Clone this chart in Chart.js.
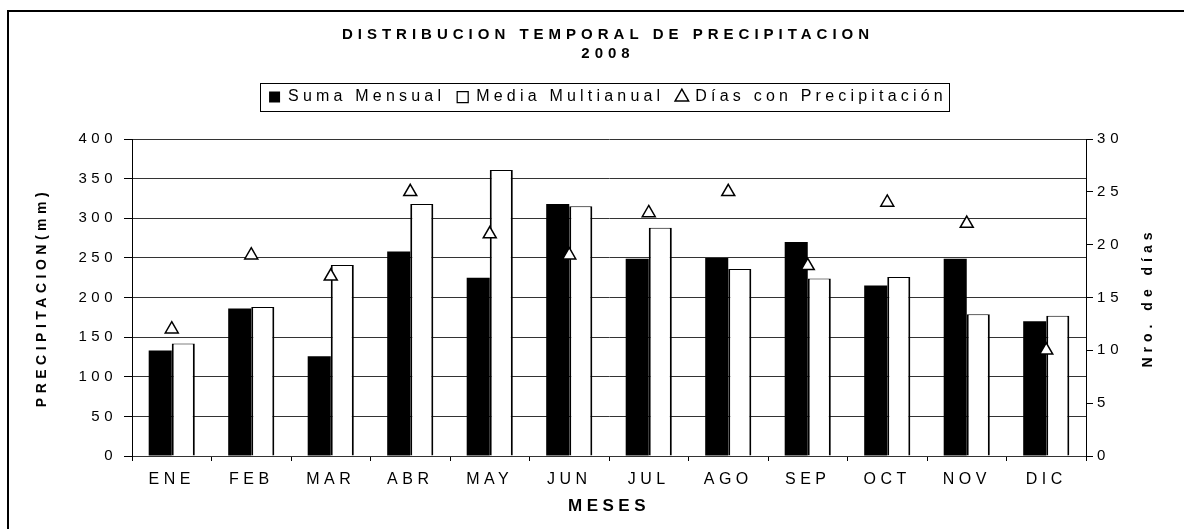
<!DOCTYPE html>
<html lang="es">
<head>
<meta charset="utf-8">
<title>Distribución temporal de precipitación 2008</title>
<script src="https://cdn.jsdelivr.net/npm/chart.js@4.4.1/dist/chart.umd.min.js"></script>
<style>
    html, body { margin: 0; padding: 0; background: #fff; }
    #wrap { position: relative; width: 1184px; height: 529px; overflow: hidden; }
    #frame { position: absolute; left: 7px; top: 10px; width: 1300px; height: 700px; border: 2px solid #000; box-sizing: border-box; }
    #chart { position: absolute; left: 0; top: 0; }
</style>
</head>
<body>
<div id="wrap">
    <div id="frame"></div>
    <canvas id="chart" width="1184" height="529"></canvas>
</div>
<script>
// Datos
const meses = ['ENE', 'FEB', 'MAR', 'ABR', 'MAY', 'JUN', 'JUL', 'AGO', 'SEP', 'OCT', 'NOV', 'DIC'];
const sumaMensual = [133, 186, 126, 258, 225, 318, 249, 250, 270, 215, 249, 170];
const mediaMultianual = [142, 188, 241, 318, 361, 315, 288, 236, 224, 226, 179, 177];
const diasPrecipitacion = [12, 19, 17, 25, 21, 19, 23, 25, 18, 24, 22, 10];

const precipMax = 400, precipStep = 50;
const diasMax = 30, diasStep = 5;

const FONT = '"Liberation Sans", Arial, sans-serif';
Chart.defaults.font.family = FONT;
Chart.defaults.color = '#000';

// Espaciado de letras por caja (el original de Excel sale muy espaciado)
const spacing = { x: 4.5, y: 4.5, y1: 5, legend: 4.2, title: 5 };

function spaced(box, px, extraHeight = 0) {
    if (!box || box._spaced) return;
    box._spaced = true;
    const update = box.update;
    const draw = box.draw;
    box.update = function (...args) {
        const prev = this.ctx.letterSpacing;
        this.ctx.letterSpacing = px + 'px';
        const r = update.apply(this, args);
        this.ctx.letterSpacing = prev;
        this.height += extraHeight;
        return r;
    };
    box.draw = function (...args) {
        const prev = this.ctx.letterSpacing;
        this.ctx.letterSpacing = px + 'px';
        const r = draw.apply(this, args);
        this.ctx.letterSpacing = prev;
        return r;
    };
}

const letterSpacing = {
    id: 'letterSpacing',
    beforeLayout(chart) {
        Object.values(chart.scales).forEach(s => spaced(s, spacing[s.id] || 0));
        spaced(chart.legend, spacing.legend, 24);
        spaced(chart.titleBlock, spacing.title);
    }
};

// Recuadro alrededor de la leyenda
const legendFrame = {
    id: 'legendFrame',
    afterDraw(chart) {
        const boxes = chart.legend && chart.legend.legendHitBoxes;
        if (!boxes || !boxes.length) return;
        const ctx = chart.ctx;
        const left = Math.round(Math.min(...boxes.map(b => b.left)) - 9);
        const right = Math.round(Math.max(...boxes.map(b => b.left + b.width)) + 2);
        const mid = boxes[0].top + boxes[0].height / 2;
        const top = Math.round(mid - 14);
        ctx.save();
        ctx.strokeStyle = '#000';
        ctx.lineWidth = 1;
        ctx.strokeRect(left + 0.5, top + 0.5, right - left, 28);
        ctx.restore();
    }
};

// Título del eje derecho, leído de abajo hacia arriba como en el original
const rightTitle = {
    id: 'rightTitle',
    afterDraw(chart) {
        const scale = chart.scales.y1;
        const ctx = chart.ctx;
        ctx.save();
        ctx.font = 'bold 14px ' + FONT;
        ctx.letterSpacing = '5px';
        ctx.fillStyle = '#000';
        ctx.textAlign = 'center';
        ctx.textBaseline = 'middle';
        ctx.translate(scale.right - 36, (scale.top + scale.bottom) / 2);
        ctx.rotate(-Math.PI / 2);
        ctx.fillText(scale.options.title.text, 0, 0);
        ctx.restore();
    }
};

const ctx = document.getElementById('chart').getContext('2d');

new Chart(ctx, {
    type: 'bar',
    data: {
        labels: meses,
        datasets: [
            {
                label: 'Suma Mensual',
                data: sumaMensual,
                backgroundColor: '#000',
                borderWidth: 0,
                pointStyle: 'rect',
                categoryPercentage: 0.58,
                barPercentage: 1.0,
                yAxisID: 'y',
                order: 1
            },
            {
                label: 'Media Multianual',
                data: mediaMultianual,
                backgroundColor: '#fff',
                borderColor: '#000',
                borderWidth: { top: 1, left: 2, right: 2, bottom: 0 },
                pointStyle: 'rect',
                categoryPercentage: 0.58,
                barPercentage: 1.0,
                yAxisID: 'y',
                order: 1
            },
            {
                type: 'line',
                label: 'Días con Precipitación',
                data: diasPrecipitacion,
                yAxisID: 'y1',
                showLine: false,
                pointStyle: 'triangle',
                pointRadius: 7.5,
                pointBackgroundColor: '#fff',
                pointBorderColor: '#000',
                pointBorderWidth: 1.5,
                order: 0
            }
        ]
    },
    options: {
        responsive: false,
        animation: false,
        events: [],
        layout: { padding: { left: 32, right: 0, top: 0, bottom: 0 } },
        plugins: {
            tooltip: { enabled: false },
            title: {
                display: true,
                text: ['DISTRIBUCION TEMPORAL DE PRECIPITACION', '2008'],
                color: '#000',
                font: { size: 15, weight: 'bold', lineHeight: 19 / 15 },
                padding: { top: 25.5, bottom: 13.5 }
            },
            legend: {
                position: 'top',
                labels: {
                    usePointStyle: true,
                    boxWidth: 11,
                    boxHeight: 11,
                    padding: 12,
                    color: '#000',
                    font: { size: 16 },
                    sort: (a, b) => a.datasetIndex - b.datasetIndex
                }
            }
        },
        scales: {
            x: {
                grid: { drawOnChartArea: false, color: '#000', tickLength: 5 },
                border: { color: '#000', width: 1 },
                ticks: { color: '#000', font: { size: 16 }, padding: 9, autoSkip: false, maxRotation: 0 },
                title: {
                    display: true,
                    text: 'MESES',
                    color: '#000',
                    font: { size: 17, weight: 'bold' },
                    padding: { top: 0, bottom: 12 }
                },
                afterFit: s => { s.height = 73; }
            },
            y: {
                position: 'left',
                min: 0,
                max: precipMax,
                grid: { color: '#333', lineWidth: 1, tickLength: 8, tickColor: '#000' },
                border: { color: '#000', width: 1 },
                ticks: { stepSize: precipStep, color: '#000', font: { size: 15 }, padding: 7 },
                title: {
                    display: true,
                    text: 'PRECIPITACION(mm)',
                    color: '#000',
                    font: { size: 14, weight: 'bold' },
                    padding: { top: 1.6, bottom: 0 }
                },
                afterFit: s => { s.width = 100; }
            },
            y1: {
                position: 'right',
                min: 0,
                max: diasMax,
                grid: { drawOnChartArea: false, color: '#000', tickLength: 7 },
                border: { color: '#000', width: 1 },
                ticks: { stepSize: diasStep, color: '#000', font: { size: 15 }, padding: 4 },
                title: { display: false, text: 'Nro. de días' },
                afterFit: s => { s.width = 98; }
            }
        }
    },
    plugins: [letterSpacing, legendFrame, rightTitle]
});
</script>
</body>
</html>
